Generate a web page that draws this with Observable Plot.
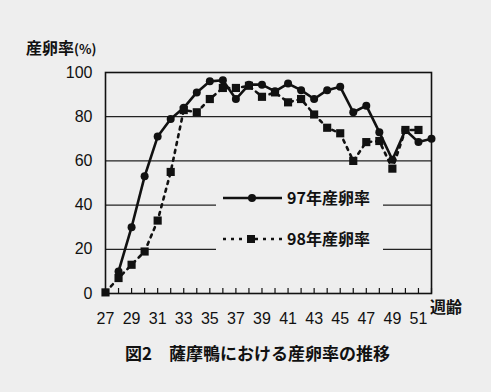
<!DOCTYPE html>
<html><head><meta charset="utf-8">
<script src="https://cdn.jsdelivr.net/npm/d3@7"></script>
<script src="https://cdn.jsdelivr.net/npm/@observablehq/plot@0.6"></script>
<style>
body{margin:0;background:#eeeeee;}
#wrap{position:relative;width:491px;height:392px;overflow:hidden;background:#eeeeee;font-family:"Liberation Sans","Noto Sans CJK JP",sans-serif;color:#111;}
#wrap svg{position:absolute;left:0;top:0;}
.t{position:absolute;white-space:nowrap;font-family:"Noto Sans CJK JP",sans-serif;color:#111;}
#legend{position:absolute;left:216px;top:178px;width:167px;height:80px;background:#eeeeee;}
</style></head><body>
<div id="wrap"></div>
<script>
// ---- data ----
const weeks97 = [28,29,30,31,32,33,34,35,36,37,38,39,40,41,42,43,44,45,46,47,48,49,50,51,52];
const rate97  = [10,30,53,71,79,84,91,96,96.5,88,94.5,94.5,91.5,95,92,88,92,93.5,82,85,73,60.5,74,68.5,70];
const weeks98 = [27,28,29,30,31,32,33,34,35,36,37,38,39,40,41,42,43,44,45,46,47,48,49,50,51];
const rate98  = [0.5,7,13,19,33,55,83,82,88,93,93,94,89,91,86.5,88,81,75,72.5,60,68.5,69,56.5,74,74];
const tickWeeks = [27,28,29,30,31,32,33,34,35,36,37,38,39,40,41,42,43,44,45,46,47,48,49,50,51,52];
const labelWeeks = [27,29,31,33,35,37,39,41,43,45,47,49,51];
const yTicks = [0,20,40,60,80,100];
const gridVals = [20,40,60,80];
const seriesNames = ["97年産卵率","98年産卵率"];
const titleText = "図2　薩摩鴨における産卵率の推移";
const yLabelText = "産卵率";
const xLabelText = "週齢";

const data97 = weeks97.map((w,i)=>({week:w, rate:rate97[i]}));
const data98 = weeks98.map((w,i)=>({week:w, rate:rate98[i]}));

const chart = Plot.plot({
  width:491, height:392,
  marginLeft:105, marginRight:60, marginTop:72, marginBottom:99,
  style:{background:"transparent", fontFamily:'"Liberation Sans", sans-serif', fontSize:"16px", color:"#111"},
  x:{domain:[27,52]},
  y:{domain:[0,100]},
  marks:[
    Plot.ruleY(gridVals,{stroke:"#222", strokeWidth:1.2}),
    Plot.frame({stroke:"#111", strokeWidth:1.6}),
    Plot.axisY({ticks:yTicks, tickSize:0, tickPadding:13, label:null, fontSize:16}),
    Plot.axisX({ticks:tickWeeks, tickSize:-5, tickFormat:()=>"", label:null, stroke:"#111", strokeWidth:1.2}),
    Plot.axisX({ticks:labelWeeks, tickSize:0, tickPadding:19, label:null, fontSize:16}),
    Plot.line(data98,{x:"week", y:"rate", stroke:"#111", strokeWidth:2.6, strokeDasharray:"3,5"}),
    Plot.line(data97,{x:"week", y:"rate", stroke:"#111", strokeWidth:2.6}),
    Plot.dot(data98,{x:"week", y:"rate", symbol:"square", r:4.6, fill:"#111", stroke:null}),
    Plot.dot(data97,{x:"week", y:"rate", r:4, fill:"#111", stroke:null})
  ]
});
const wrap = document.getElementById("wrap");
wrap.appendChild(chart);

function addText(txt, left, top, size, weight){
  const d = document.createElement("div");
  d.className = "t";
  d.textContent = txt;
  d.style.left = left+"px"; d.style.top = top+"px";
  d.style.fontSize = size+"px"; d.style.fontWeight = weight||"normal";
  d.style.lineHeight = "1";
  wrap.appendChild(d);
  return d;
}
const yl = addText(yLabelText, 26, 39, 16, "bold");
const pct = document.createElement("span"); pct.textContent = "(%)"; pct.style.fontSize="13px"; yl.appendChild(pct);
addText(xLabelText, 430, 298, 16, "bold");
addText(titleText, 125, 344, 17, "bold");

// legend
const lg = document.createElement("div"); lg.id="legend"; wrap.appendChild(lg);
const ns = "http://www.w3.org/2000/svg";
const ls = document.createElementNS(ns,"svg");
ls.setAttribute("width","167"); ls.setAttribute("height","80");
ls.style.position="absolute"; ls.style.left="0"; ls.style.top="0";
const rows = [{y:20, dash:null, sym:"circle"},{y:61, dash:"3,5", sym:"square"}];
rows.forEach((r,i)=>{
  const l = document.createElementNS(ns,"line");
  l.setAttribute("x1",7); l.setAttribute("x2",66); l.setAttribute("y1",r.y); l.setAttribute("y2",r.y);
  l.setAttribute("stroke","#111"); l.setAttribute("stroke-width","2.6");
  if(r.dash) l.setAttribute("stroke-dasharray",r.dash);
  ls.appendChild(l);
  if(r.sym==="circle"){
    const c = document.createElementNS(ns,"circle");
    c.setAttribute("cx",36); c.setAttribute("cy",r.y); c.setAttribute("r",4); c.setAttribute("fill","#111");
    ls.appendChild(c);
  } else {
    const s = document.createElementNS(ns,"rect");
    s.setAttribute("x",31); s.setAttribute("y",r.y-4); s.setAttribute("width",8); s.setAttribute("height",8); s.setAttribute("fill","#111");
    ls.appendChild(s);
  }
});
lg.appendChild(ls);
seriesNames.forEach((n,i)=>{
  const d = document.createElement("div");
  d.className="t"; d.textContent=n;
  d.style.left="71px"; d.style.top=(rows[i].y-9)+"px"; d.style.fontSize="16px"; d.style.fontWeight="bold"; d.style.lineHeight="1";
  lg.appendChild(d);
});
</script>
</body></html>
